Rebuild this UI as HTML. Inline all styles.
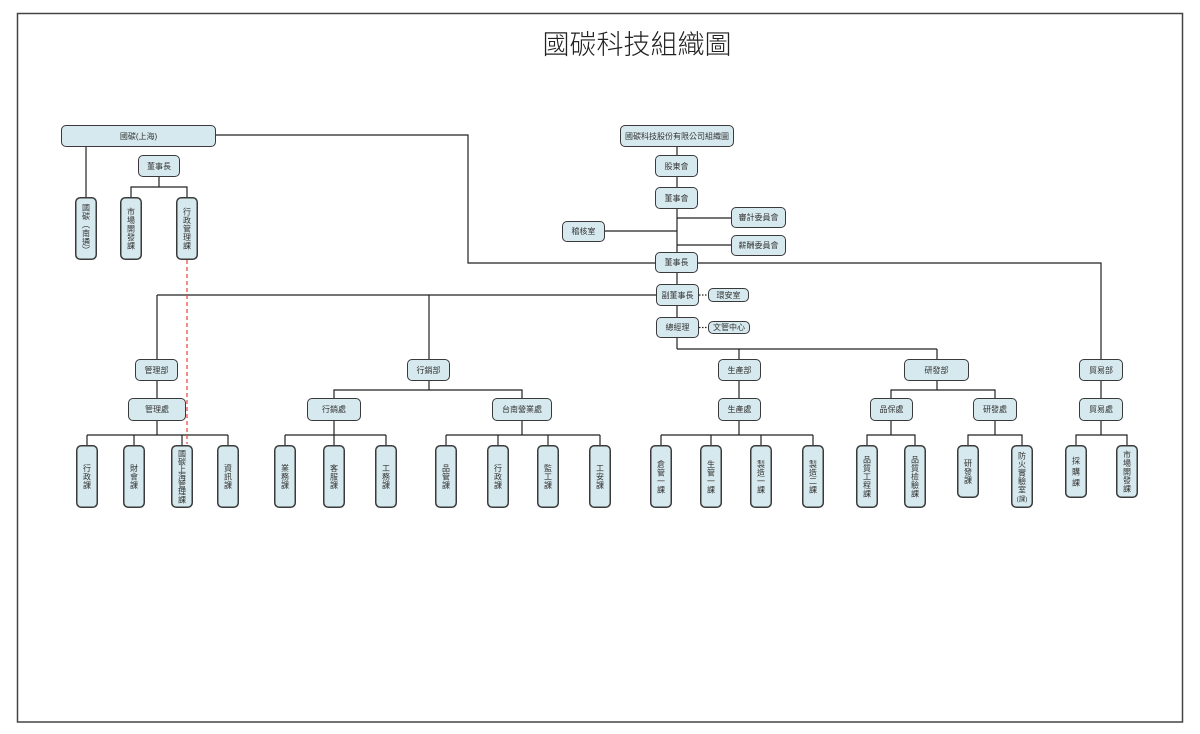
<!DOCTYPE html>
<html><head><meta charset="utf-8">
<style>
html,body{margin:0;padding:0;background:#fff;}
body{width:1200px;height:734px;position:relative;overflow:hidden;font-family:"Liberation Sans","Noto Sans CJK TC",sans-serif;}
svg{position:absolute;left:0;top:0;}
.t{position:absolute;left:437px;width:400px;top:30px;height:30px;line-height:30px;text-align:center;font-size:27px;color:#222;font-family:"Liberation Sans","Noto Sans CJK TC",sans-serif;font-weight:300;}
.b{position:absolute;box-sizing:border-box;background:#d6e9ee;border:1.5px solid #3a3a3a;border-radius:5px;font-size:8px;color:#333;display:flex;align-items:center;justify-content:center;text-align:center;line-height:9px;white-space:nowrap;}
svg text{font-family:"Liberation Sans","Noto Sans CJK TC",sans-serif;font-size:8px;fill:#333;text-anchor:middle;}
svg text.sm{font-size:6.5px;}
.lf rect{fill:#d6e9ee;stroke:#3a3a3a;stroke-width:1.5;}
</style></head><body>
<svg width="1200" height="734" viewBox="0 0 1200 734">
<rect x="17.5" y="13.5" width="1165" height="708.5" fill="none" stroke="#444" stroke-width="1.5"/>
<g stroke="#222" stroke-width="1.2" fill="none">
<polyline points="216,135 468,135 468,263 1101,263 1101,360"/>
<line x1="86" y1="147" x2="86" y2="198"/>
<line x1="159" y1="177" x2="159" y2="187"/>
<polyline points="131,198 131,187 187,187 187,198"/>
<line x1="677" y1="147" x2="677" y2="349"/>
<line x1="677" y1="218" x2="731" y2="218"/>
<line x1="605" y1="231" x2="677" y2="231"/>
<line x1="677" y1="245" x2="731" y2="245"/>
<line x1="157" y1="295" x2="656" y2="295"/>
<line x1="157" y1="295" x2="157" y2="360"/>
<line x1="429" y1="295" x2="429" y2="360"/>
<polyline points="739,360 739,349 677,349"/>
<line x1="739" y1="349" x2="937" y2="349"/>
<line x1="937" y1="349" x2="937" y2="360"/>
<line x1="157" y1="381" x2="157" y2="398"/>
<line x1="157" y1="421" x2="157" y2="435"/>
<line x1="87" y1="435" x2="228" y2="435"/>
<line x1="87" y1="435" x2="87" y2="446"/>
<line x1="134" y1="435" x2="134" y2="446"/>
<line x1="182" y1="435" x2="182" y2="446"/>
<line x1="228" y1="435" x2="228" y2="446"/>
<line x1="429" y1="381" x2="429" y2="390"/>
<polyline points="334,399 334,390 522,390 522,399"/>
<line x1="334" y1="421" x2="334" y2="435"/>
<line x1="285" y1="435" x2="386" y2="435"/>
<line x1="285" y1="435" x2="285" y2="446"/>
<line x1="334" y1="435" x2="334" y2="446"/>
<line x1="386" y1="435" x2="386" y2="446"/>
<line x1="522" y1="421" x2="522" y2="435"/>
<line x1="446" y1="435" x2="600" y2="435"/>
<line x1="446" y1="435" x2="446" y2="446"/>
<line x1="498" y1="435" x2="498" y2="446"/>
<line x1="548" y1="435" x2="548" y2="446"/>
<line x1="600" y1="435" x2="600" y2="446"/>
<line x1="739" y1="381" x2="739" y2="398"/>
<line x1="739" y1="421" x2="739" y2="435"/>
<line x1="661" y1="435" x2="813" y2="435"/>
<line x1="661" y1="435" x2="661" y2="446"/>
<line x1="711" y1="435" x2="711" y2="446"/>
<line x1="761" y1="435" x2="761" y2="446"/>
<line x1="813" y1="435" x2="813" y2="446"/>
<line x1="937" y1="381" x2="937" y2="390"/>
<polyline points="891,399 891,390 995,390 995,399"/>
<line x1="891" y1="421" x2="891" y2="435"/>
<polyline points="867,446 867,435 915,435 915,446"/>
<line x1="995" y1="421" x2="995" y2="435"/>
<polyline points="968,446 968,435 1022,435 1022,446"/>
<line x1="1101" y1="381" x2="1101" y2="398"/>
<line x1="1101" y1="421" x2="1101" y2="435"/>
<polyline points="1076,446 1076,435 1127,435 1127,446"/>
</g>
<g stroke="#222" stroke-width="1.2" stroke-dasharray="1.5,1.5">
<line x1="699" y1="295" x2="708" y2="295"/>
<line x1="699" y1="327.5" x2="708" y2="327.5"/>
</g>
<line x1="187" y1="260" x2="187" y2="444" stroke="#e8403a" stroke-width="1.2" stroke-dasharray="4,3"/>

<!-- leaf boxes -->
<g class="lf">
<rect x="75.75" y="197.75" width="20.5" height="61.5" rx="4.5"/>
<rect x="120.75" y="197.75" width="20.5" height="61.5" rx="4.5"/>
<rect x="176.75" y="197.75" width="20.5" height="61.5" rx="4.5"/>

<rect x="76.75" y="445.75" width="20.5" height="61.5" rx="4.5"/>
<rect x="123.75" y="445.75" width="20.5" height="61.5" rx="4.5"/>
<rect x="171.75" y="445.75" width="20.5" height="61.5" rx="4.5"/>
<rect x="217.75" y="445.75" width="20.5" height="61.5" rx="4.5"/>
<rect x="274.75" y="445.75" width="20.5" height="61.5" rx="4.5"/>
<rect x="323.75" y="445.75" width="20.5" height="61.5" rx="4.5"/>
<rect x="375.75" y="445.75" width="20.5" height="61.5" rx="4.5"/>
<rect x="435.75" y="445.75" width="20.5" height="61.5" rx="4.5"/>
<rect x="487.75" y="445.75" width="20.5" height="61.5" rx="4.5"/>
<rect x="537.75" y="445.75" width="20.5" height="61.5" rx="4.5"/>
<rect x="589.75" y="445.75" width="20.5" height="61.5" rx="4.5"/>
<rect x="650.75" y="445.75" width="20.5" height="61.5" rx="4.5"/>
<rect x="700.75" y="445.75" width="20.5" height="61.5" rx="4.5"/>
<rect x="750.75" y="445.75" width="20.5" height="61.5" rx="4.5"/>
<rect x="802.75" y="445.75" width="20.5" height="61.5" rx="4.5"/>
<rect x="856.75" y="445.75" width="20.5" height="61.5" rx="4.5"/>
<rect x="904.75" y="445.75" width="20.5" height="61.5" rx="4.5"/>
<rect x="957.75" y="445.75" width="20.5" height="51.5" rx="4.5"/>
<rect x="1011.75" y="445.75" width="20.5" height="61.5" rx="4.5"/>
<rect x="1065.75" y="445.75" width="20.5" height="51.5" rx="4.5"/>
<rect x="1116.75" y="445.75" width="20.5" height="51.5" rx="4.5"/>
</g>

<!-- upper leaf texts -->
<text><tspan x="86" y="210.5">國</tspan><tspan x="86" y="219">碳</tspan><tspan x="86" y="227.5">︵</tspan><tspan x="86" y="236">南</tspan><tspan x="86" y="244.5">通</tspan><tspan x="86" y="253">︶</tspan></text>
<text><tspan x="131" y="214.5">市</tspan><tspan x="131" y="223">場</tspan><tspan x="131" y="231.5">開</tspan><tspan x="131" y="240">發</tspan><tspan x="131" y="248.5">課</tspan></text>
<text><tspan x="187" y="214.5">行</tspan><tspan x="187" y="223">政</tspan><tspan x="187" y="231.5">管</tspan><tspan x="187" y="240">理</tspan><tspan x="187" y="248.5">課</tspan></text>

<!-- bottom leaf texts: 3 chars -->
<text><tspan x="87" y="471">行</tspan><tspan x="87" y="479.5">政</tspan><tspan x="87" y="488">課</tspan></text>
<text><tspan x="134" y="471">財</tspan><tspan x="134" y="479.5">會</tspan><tspan x="134" y="488">課</tspan></text>
<text><tspan x="182" y="456.7">國</tspan><tspan x="182" y="464.3">碳</tspan><tspan x="182" y="471.9">上</tspan><tspan x="182" y="479.5">海</tspan><tspan x="182" y="487.1">管</tspan><tspan x="182" y="494.7">理</tspan><tspan x="182" y="502.3">課</tspan></text>
<text><tspan x="228" y="471">資</tspan><tspan x="228" y="479.5">訊</tspan><tspan x="228" y="488">課</tspan></text>

<text><tspan x="285" y="471">業</tspan><tspan x="285" y="479.5">務</tspan><tspan x="285" y="488">課</tspan></text>
<text><tspan x="334" y="471">客</tspan><tspan x="334" y="479.5">服</tspan><tspan x="334" y="488">課</tspan></text>
<text><tspan x="386" y="471">工</tspan><tspan x="386" y="479.5">務</tspan><tspan x="386" y="488">課</tspan></text>
<text><tspan x="446" y="471">品</tspan><tspan x="446" y="479.5">管</tspan><tspan x="446" y="488">課</tspan></text>
<text><tspan x="498" y="471">行</tspan><tspan x="498" y="479.5">政</tspan><tspan x="498" y="488">課</tspan></text>
<text><tspan x="548" y="471">監</tspan><tspan x="548" y="479.5">工</tspan><tspan x="548" y="488">課</tspan></text>
<text><tspan x="600" y="471">工</tspan><tspan x="600" y="479.5">安</tspan><tspan x="600" y="488">課</tspan></text>

<text><tspan x="661" y="466.75">倉</tspan><tspan x="661" y="475.25">管</tspan><tspan x="661" y="483.75">一</tspan><tspan x="661" y="492.25">課</tspan></text>
<text><tspan x="711" y="466.75">生</tspan><tspan x="711" y="475.25">管</tspan><tspan x="711" y="483.75">一</tspan><tspan x="711" y="492.25">課</tspan></text>
<text><tspan x="761" y="466.75">製</tspan><tspan x="761" y="475.25">造</tspan><tspan x="761" y="483.75">一</tspan><tspan x="761" y="492.25">課</tspan></text>
<text><tspan x="813" y="466.75">製</tspan><tspan x="813" y="475.25">造</tspan><tspan x="813" y="483.75">二</tspan><tspan x="813" y="492.25">課</tspan></text>

<text><tspan x="867" y="462.5">品</tspan><tspan x="867" y="471">質</tspan><tspan x="867" y="479.5">工</tspan><tspan x="867" y="488">程</tspan><tspan x="867" y="496.5">課</tspan></text>
<text><tspan x="915" y="462.5">品</tspan><tspan x="915" y="471">質</tspan><tspan x="915" y="479.5">檢</tspan><tspan x="915" y="488">驗</tspan><tspan x="915" y="496.5">課</tspan></text>
<text><tspan x="968" y="466">研</tspan><tspan x="968" y="474.5">發</tspan><tspan x="968" y="483">課</tspan></text>
<text><tspan x="1022" y="458.25">防</tspan><tspan x="1022" y="466.75">火</tspan><tspan x="1022" y="475.25">實</tspan><tspan x="1022" y="483.75">驗</tspan><tspan x="1022" y="492.25">室</tspan></text>
<text class="sm" x="1022" y="500.75">(課)</text>

<text><tspan x="1076" y="463.5">採</tspan><tspan x="1076" y="474.5">購</tspan><tspan x="1076" y="485.5">課</tspan></text>
<text><tspan x="1127" y="457.5">市</tspan><tspan x="1127" y="466">場</tspan><tspan x="1127" y="474.5">開</tspan><tspan x="1127" y="483">發</tspan><tspan x="1127" y="491.5">課</tspan></text>
</svg>

<div class="t">國碳科技組織圖</div>

<div class="b" style="left:61px;top:125px;width:155px;height:22px;">國碳(上海)</div>
<div class="b" style="left:138px;top:155px;width:42px;height:22px;">董事長</div>

<div class="b" style="left:620px;top:125px;width:114px;height:22px;">國碳科技股份有限公司組織圖</div>
<div class="b" style="left:655px;top:155px;width:43px;height:22px;">股東會</div>
<div class="b" style="left:655px;top:187px;width:43px;height:22px;">董事會</div>
<div class="b" style="left:731px;top:207px;width:55px;height:21px;">審計委員會</div>
<div class="b" style="left:562px;top:221px;width:43px;height:21px;">稽核室</div>
<div class="b" style="left:731px;top:235px;width:55px;height:21px;">薪酬委員會</div>
<div class="b" style="left:655px;top:252px;width:43px;height:21px;">董事長</div>
<div class="b" style="left:656px;top:284px;width:43px;height:22px;">副董事長</div>
<div class="b" style="left:708px;top:288px;width:41px;height:14px;">環安室</div>
<div class="b" style="left:656px;top:317px;width:43px;height:21px;">總經理</div>
<div class="b" style="left:708px;top:321px;width:42px;height:13px;">文管中心</div>

<div class="b" style="left:135px;top:359px;width:43px;height:22px;">管理部</div>
<div class="b" style="left:407px;top:359px;width:43px;height:22px;">行銷部</div>
<div class="b" style="left:718px;top:359px;width:43px;height:22px;">生產部</div>
<div class="b" style="left:904px;top:359px;width:65px;height:22px;">研發部</div>
<div class="b" style="left:1079px;top:359px;width:44px;height:22px;">貿易部</div>

<div class="b" style="left:128px;top:398px;width:58px;height:23px;">管理處</div>
<div class="b" style="left:307px;top:398px;width:54px;height:23px;">行銷處</div>
<div class="b" style="left:492px;top:398px;width:60px;height:23px;">台南營業處</div>
<div class="b" style="left:718px;top:398px;width:43px;height:23px;">生產處</div>
<div class="b" style="left:870px;top:398px;width:43px;height:23px;">品保處</div>
<div class="b" style="left:973px;top:398px;width:44px;height:23px;">研發處</div>
<div class="b" style="left:1079px;top:398px;width:44px;height:23px;">貿易處</div>
</body></html>
